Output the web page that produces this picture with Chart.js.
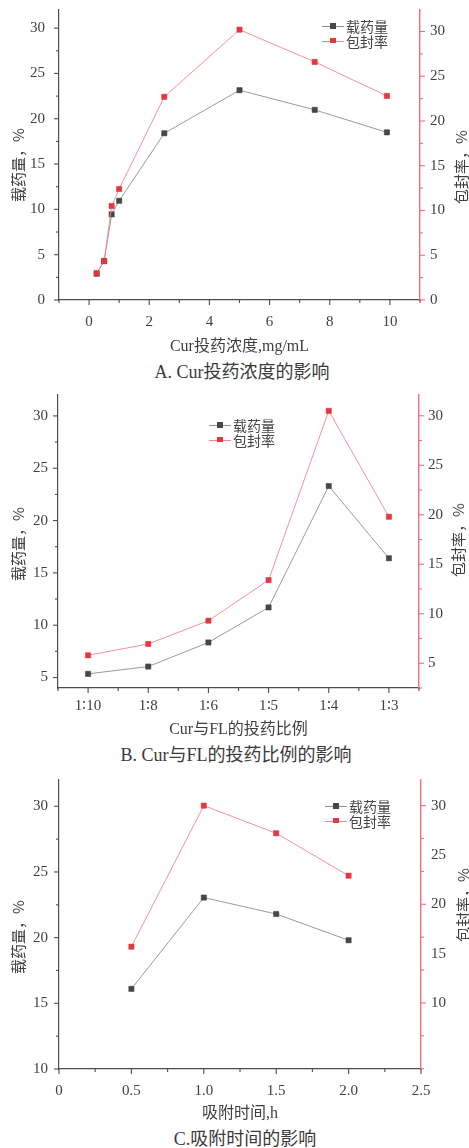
<!DOCTYPE html>
<html>
<head>
<meta charset="utf-8">
<script src="https://cdn.jsdelivr.net/npm/chart.js@4.4.1/dist/chart.umd.min.js"></script>
<style>
  html, body { margin: 0; padding: 0; background: #fff; }
  body { width: 469px; height: 1148px; position: relative; overflow: hidden; color: #3a3a3a;
         font-family: "Liberation Serif", "Noto Sans CJK SC", serif; }
  canvas { position: absolute; left: 0; }
  .cap { position: absolute; width: 400px; text-align: center; font-size: 18px; line-height: 22px; white-space: nowrap; }
  .lg { position: absolute; font-family: "Noto Sans CJK SC", sans-serif; font-size: 14px; color: #444; }
  .lg .row { position: absolute; left: 0; height: 14px; display: flex; align-items: center; white-space: nowrap; }
  .lg .sw { position: relative; width: 22px; height: 14px; margin-right: 2px; }
  .lg .ln { position: absolute; left: 0; width: 22px; top: 7px; height: 1px; }
  .lg .mk { position: absolute; left: 8.3px; top: 4.3px; width: 5.4px; height: 5.4px; }
</style>
</head>
<body>
<canvas id="chartA" width="469" height="356" style="top:0px"></canvas>
<canvas id="chartB" width="469" height="354" style="top:385px"></canvas>
<canvas id="chartC" width="469" height="353" style="top:770px"></canvas>
<div class="cap" style="left:42px;top:361px">A. Cur投药浓度的影响</div>
<div class="cap" style="left:36px;top:744px">B. Cur与FL的投药比例的影响</div>
<div class="cap" style="left:45px;top:1128px">C.吸附时间的影响</div>

<script>
// Series names
const seriesNames = ['载药量', '包封率'];

// A: Cur 投药浓度 (mg/mL)
const concA = [0.25, 0.5, 0.75, 1.0, 2.5, 5.0, 7.5, 9.9];
const loadA = [2.9, 4.3, 9.45, 10.95, 18.4, 23.15, 20.98, 18.5];
const encA  = [3.0, 4.35, 10.5, 12.4, 22.7, 30.2, 26.6, 22.8];

// B: Cur 与 FL 的投药比例
const ratioB = ['1∶10', '1∶8', '1∶6', '1∶5', '1∶4', '1∶3'];
const loadB  = [5.35, 6.05, 8.35, 11.7, 23.3, 16.4];
const encB   = [5.8, 6.95, 9.3, 13.4, 30.5, 19.8];

// C: 吸附时间 (h)
const timeC = [0.5, 1.0, 1.5, 2.0];
const loadC = [16.1, 23.05, 21.8, 19.8];
const encC  = [15.7, 30.0, 27.2, 22.9];

// Tick values per axis
const xTicksA  = [0, 2, 4, 6, 8, 10];
const xMinorA  = [-1, 1, 3, 5, 7, 9, 11];
const yTicksA  = [0, 5, 10, 15, 20, 25, 30];
const yMinorA  = [2.5, 7.5, 12.5, 17.5, 22.5, 27.5];
const y2TicksA = [0, 5, 10, 15, 20, 25, 30];
const y2MinorA = [2.5, 7.5, 12.5, 17.5, 22.5, 27.5];

const xTicksB  = [0, 1, 2, 3, 4, 5];
const xMinorB  = [-0.5, 0.5, 1.5, 2.5, 3.5, 4.5, 5.5];
const yTicksB  = [5, 10, 15, 20, 25, 30];
const yMinorB  = [7.5, 12.5, 17.5, 22.5, 27.5];
const y2TicksB = [5, 10, 15, 20, 25, 30];
const y2MinorB = [2.5, 7.5, 12.5, 17.5, 22.5, 27.5];

const xTicksC  = [0, 0.5, 1.0, 1.5, 2.0, 2.5];
const xMinorC  = [0.25, 0.75, 1.25, 1.75, 2.25];
const yTicksC  = [10, 15, 20, 25, 30];
const yMinorC  = [12.5, 17.5, 22.5, 27.5];
const y2TicksC = [10, 15, 20, 25, 30];
const y2MarksC = [10, 20, 30];
const y2MinorC = [3.33, 6.67, 13.33, 16.67, 23.33, 26.67];

const AXIS = '#4d4d4d';
const RED_AXIS = '#f2707a';
const TICK_FONT = { family: '"Liberation Serif", "DejaVu Serif", serif', size: 15 };
const TEXT = '#3f3f3f';
const W = 469;

function panel(spec) {
  const canvas = document.getElementById(spec.id);
  const top = parseFloat(canvas.style.top);

  // tick marks (major/minor) and rotated axis titles
  const marks = {
    id: 'axisMarks',
    afterDraw(chart) {
      const { ctx, chartArea: a, scales: s } = chart;
      const seg = (x1, y1, x2, y2, c) => {
        ctx.strokeStyle = c; ctx.lineWidth = 1.1;
        ctx.beginPath(); ctx.moveTo(x1, y1); ctx.lineTo(x2, y2); ctx.stroke();
      };
      ctx.save();
      spec.xMarks.forEach(v => { const p = s.x.getPixelForValue(v); seg(p, a.bottom, p, a.bottom + 5, AXIS); });
      spec.xMinor.forEach(v => { const p = s.x.getPixelForValue(v); seg(p, a.bottom, p, a.bottom + 3, AXIS); });
      spec.yMarks.forEach(v => { const p = s.y.getPixelForValue(v); seg(a.left - 5, p, a.left, p, AXIS); });
      spec.yMinor.forEach(v => { const p = s.y.getPixelForValue(v); seg(a.left - 3, p, a.left, p, AXIS); });
      spec.y2Marks.forEach(v => { const p = s.y2.getPixelForValue(v); seg(a.right, p, a.right + 5, p, RED_AXIS); });
      spec.y2Minor.forEach(v => { const p = s.y2.getPixelForValue(v); seg(a.right, p, a.right + 3, p, RED_AXIS); });

      ctx.fillStyle = TEXT;
      ctx.font = '15px "Noto Sans CJK SC", sans-serif';
      ctx.textAlign = 'center';
      ctx.textBaseline = 'middle';
      [[spec.yTitlePos, seriesNames[0] + '，%'], [spec.y2TitlePos, seriesNames[1] + '，%']].forEach(([pos, txt]) => {
        ctx.save();
        ctx.translate(pos[0], pos[1] - top);
        ctx.rotate(-Math.PI / 2);
        ctx.fillText(txt, 0, 0);
        ctx.restore();
      });
      ctx.restore();
    }
  };

  const pts = (xs, ys) => xs.map((x, i) => ({ x, y: ys[i] }));
  const noPadV = sc => { sc.paddingTop = 0; sc.paddingBottom = 0; };

  new Chart(canvas, {
    type: 'line',
    data: {
      datasets: [
        {
          label: seriesNames[0], data: pts(spec.xs, spec.load), yAxisID: 'y', order: 1,
          borderColor: '#8e8e8e', borderWidth: 0.9, tension: 0,
          pointStyle: 'rect', pointRadius: 3.7, pointBackgroundColor: '#474747',
          pointBorderColor: '#3a3a3a', pointBorderWidth: 0.5
        },
        {
          label: seriesNames[1], data: pts(spec.xs, spec.enc), yAxisID: 'y2', order: 0,
          borderColor: '#f4868e', borderWidth: 0.9, tension: 0,
          pointStyle: 'rect', pointRadius: 3.7, pointBackgroundColor: '#e8363f',
          pointBorderColor: '#de2c36', pointBorderWidth: 0.5
        }
      ]
    },
    options: {
      responsive: false,
      animation: false,
      events: [],
      layout: { padding: { top: spec.plotTop - top, left: 0, right: 0, bottom: 0 } },
      plugins: { legend: { display: false }, tooltip: { enabled: false } },
      scales: {
        x: {
          type: 'linear', position: 'bottom', min: spec.xMin, max: spec.xMax,
          afterBuildTicks: sc => { sc.ticks = spec.xTicks.map(v => ({ value: v })); },
          afterFit: sc => { sc.height = spec.xH; sc.paddingLeft = 0; sc.paddingRight = 0; },
          grid: { drawOnChartArea: false, drawTicks: true, tickLength: 5, tickColor: 'rgba(0,0,0,0)' },
          border: { color: AXIS, width: 1.2 },
          ticks: {
            font: TICK_FONT, color: TEXT, padding: spec.xPad, maxRotation: 0, autoSkip: false,
            callback: spec.xLabel
          },
          title: {
            display: true, text: spec.xTitle, color: TEXT,
            font: { family: '"Liberation Serif", "Noto Sans CJK SC", serif', size: 16 },
            padding: { top: 0, bottom: 0 }
          }
        },
        y: {
          type: 'linear', position: 'left', min: spec.yMin, max: spec.yMax,
          afterBuildTicks: sc => { sc.ticks = spec.yTicks.map(v => ({ value: v })); },
          afterFit: sc => { sc.width = spec.left; noPadV(sc); },
          grid: { drawOnChartArea: false, drawTicks: true, tickLength: 5, tickColor: 'rgba(0,0,0,0)' },
          border: { color: AXIS, width: 1.2 },
          ticks: { font: TICK_FONT, color: TEXT, padding: spec.yPad }
        },
        y2: {
          type: 'linear', position: 'right', min: spec.y2Min, max: spec.y2Max,
          afterBuildTicks: sc => { sc.ticks = spec.y2Ticks.map(v => ({ value: v })); },
          afterFit: sc => { sc.width = W - spec.right; noPadV(sc); },
          grid: { drawOnChartArea: false, drawTicks: true, tickLength: 5, tickColor: 'rgba(0,0,0,0)' },
          border: { color: RED_AXIS, width: 1.4 },
          ticks: { font: TICK_FONT, color: TEXT, padding: spec.y2Pad }
        }
      }
    },
    plugins: [marks]
  });

  // legend: line + square swatch, then series name
  const lg = document.createElement('div');
  lg.className = 'lg';
  lg.style.left = spec.legend[0] + 'px';
  lg.style.top = spec.legend[1] + 'px';
  [['#8e8e8e', '#474747'], ['#f4868e', '#e8363f']].forEach(([lc, mc], i) => {
    const row = document.createElement('div');
    row.className = 'row';
    row.style.top = (i * 14.6) + 'px';
    row.innerHTML = '<span class="sw"><span class="ln" style="background:' + lc + '"></span>' +
      '<span class="mk" style="background:' + mc + '"></span></span><span>' + seriesNames[i] + '</span>';
    lg.appendChild(row);
  });
  document.body.appendChild(lg);
}

panel({
  id: 'chartA', xs: concA, load: loadA, enc: encA,
  plotTop: 10, plotBottom: 300, left: 59, right: 420, xH: 56, xPad: 8, yPad: 9, y2Pad: 5,
  xMin: -1, xMax: 11, yMin: 0, yMax: 32, y2Min: 0, y2Max: 32.4,
  xTicks: xTicksA, xMarks: xTicksA, xMinor: xMinorA, xLabel: v => String(v),
  yTicks: yTicksA, yMarks: yTicksA, yMinor: yMinorA,
  y2Ticks: y2TicksA, y2Marks: y2TicksA, y2Minor: y2MinorA,
  xTitle: 'Cur投药浓度,mg/mL',
  yTitlePos: [18.5, 165], y2TitlePos: [461, 167],
  legend: [322, 19]
});

panel({
  id: 'chartB', xs: ratioB.map((_, i) => i), load: loadB, enc: encB,
  plotTop: 395, plotBottom: 688, left: 58, right: 419, xH: 51, xPad: 4, yPad: 5, y2Pad: 4,
  xMin: -0.5, xMax: 5.5, yMin: 4, yMax: 32, y2Min: 2.5, y2Max: 32.1,
  xTicks: xTicksB, xMarks: xTicksB, xMinor: xMinorB, xLabel: v => ratioB[Math.round(v)],
  yTicks: yTicksB, yMarks: yTicksB, yMinor: yMinorB,
  y2Ticks: y2TicksB, y2Marks: y2TicksB, y2Minor: y2MinorB,
  xTitle: 'Cur与FL的投药比例',
  yTitlePos: [18, 544], y2TitlePos: [458, 540],
  legend: [209, 418]
});

panel({
  id: 'chartC', xs: timeC, load: loadC, enc: encC,
  plotTop: 780, plotBottom: 1069, left: 59, right: 421, xH: 54, xPad: 8, yPad: 6, y2Pad: 5,
  xMin: 0, xMax: 2.5, yMin: 10, yMax: 32, y2Min: 3.3, y2Max: 32.6,
  xTicks: xTicksC, xMarks: xTicksC, xMinor: xMinorC,
  xLabel: v => (v === 0 ? '0' : v.toFixed(1)),
  yTicks: yTicksC, yMarks: yTicksC, yMinor: yMinorC,
  y2Ticks: y2TicksC, y2Marks: y2MarksC, y2Minor: y2MinorC,
  xTitle: '吸附时间,h',
  yTitlePos: [18, 937], y2TitlePos: [463, 905],
  legend: [325, 799]
});
</script>
</body>
</html>
